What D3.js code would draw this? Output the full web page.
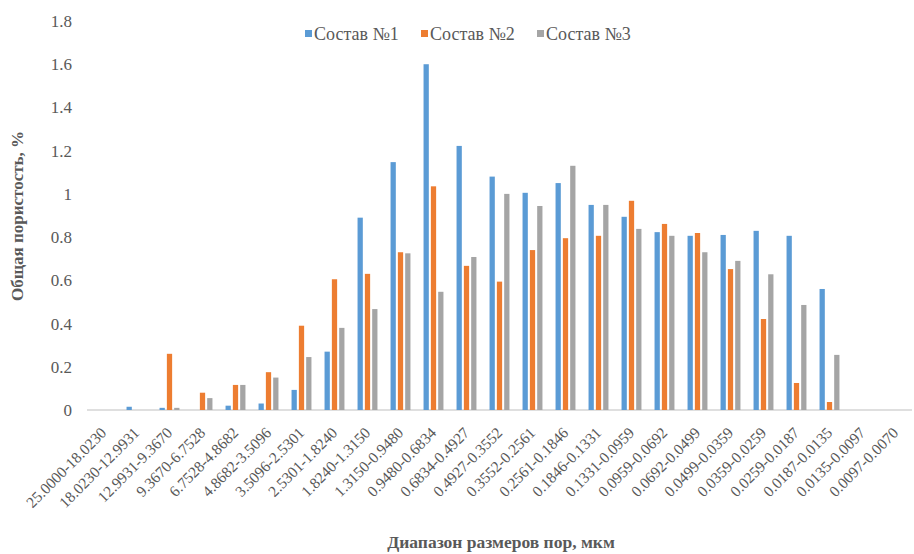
<!DOCTYPE html>
<html><head><meta charset="utf-8">
<script src="https://cdn.jsdelivr.net/npm/d3@7"></script>
<style>body{margin:0;background:#fff}svg{display:block}svg text{font-family:"Liberation Serif","Times New Roman",serif}</style>
</head><body>
<svg id="c" width="914" height="554"></svg>
<script>
const categories = ["25.0000-18.0230","18.0230-12.9931","12.9931-9.3670","9.3670-6.7528","6.7528-4.8682","4.8682-3.5096","3.5096-2.5301","2.5301-1.8240","1.8240-1.3150","1.3150-0.9480","0.9480-0.6834","0.6834-0.4927","0.4927-0.3552","0.3552-0.2561","0.2561-0.1846","0.1846-0.1331","0.1331-0.0959","0.0959-0.0692","0.0692-0.0499","0.0499-0.0359","0.0359-0.0259","0.0259-0.0187","0.0187-0.0135","0.0135-0.0097","0.0097-0.0070"];
const seriesNames = ["Состав №1","Состав №2","Состав №3"];
const s1 = [0,0.015,0.01,0,0.02,0.03,0.093,0.27,0.89,1.147,1.6,1.222,1.08,1.005,1.05,0.949,0.894,0.823,0.806,0.81,0.829,0.806,0.56,0,0];
const s2 = [0,0,0.26,0.08,0.116,0.175,0.39,0.605,0.63,0.73,1.035,0.667,0.594,0.74,0.795,0.806,0.968,0.861,0.819,0.652,0.421,0.125,0.037,0,0];
const s3 = [0,0,0.01,0.055,0.116,0.15,0.245,0.38,0.467,0.725,0.547,0.708,1.0,0.944,1.13,0.949,0.838,0.806,0.73,0.69,0.628,0.486,0.255,0,0];
const yTicks = [0,0.2,0.4,0.6,0.8,1,1.2,1.4,1.6,1.8];
const colors = ["#5B9BD5","#ED7D31","#A5A5A5"];
const series = [s1,s2,s3];

const svg = d3.select("#c");
const font = '"Liberation Serif","Times New Roman",serif';
const x0 = d3.scaleBand().domain(categories).range([87,912]).paddingInner(0).paddingOuter(0);
const x1 = d3.scaleBand().domain(seriesNames).range([x0.bandwidth()/2-12, x0.bandwidth()/2+12]).padding(0.28);
const y = d3.scaleLinear().domain([0,1.8]).range([410,21]);

// axis line
svg.append("line").attr("x1",87).attr("x2",912).attr("y1",y(0)).attr("y2",y(0))
  .attr("stroke","#bfbfbf").attr("stroke-width",1);

// bars
const g = svg.append("g");
categories.forEach((c,i)=>{
  series.forEach((s,k)=>{
    const v = s[i];
    if(v<=0) return;
    g.append("rect")
      .attr("x", x0(c)+x1(seriesNames[k]))
      .attr("y", y(v))
      .attr("width", x1.bandwidth())
      .attr("height", y(0)-y(v))
      .attr("fill", colors[k]);
  });
});

// y axis labels
const yAxis = d3.axisLeft(y).tickValues(yTicks).tickSize(0).tickPadding(0).tickFormat(d=>String(d));
const ya = svg.append("g").attr("transform","translate(72,0)").call(yAxis);
ya.attr("font-family",null).attr("font-size",null);
ya.select(".domain").remove();
ya.selectAll("text").style("font-family",font).style("font-size","17px").attr("fill","#595959");

// x labels
const xAxis = d3.axisBottom(x0).tickSize(0).tickPadding(0);
const xa = svg.append("g").attr("transform","translate(0,"+(y(0)+20)+")").call(xAxis);
xa.attr("font-family",null).attr("font-size",null);
xa.select(".domain").remove();
xa.selectAll("text").style("font-family",font).style("font-size","15.5px").attr("fill","#595959")
  .attr("text-anchor","end").attr("dy","0.35em").attr("dx","0")
  .attr("transform","rotate(-45)").attr("y",0).attr("x",0);

// axis titles
svg.append("text").attr("x",501).attr("y",548).attr("text-anchor","middle")
  .style("font-family",font).style("font-size","17.5px").attr("font-weight","bold").attr("fill","#595959")
  .text("Диапазон размеров пор, мкм");
svg.append("text").attr("transform","translate(23,216) rotate(-90)").attr("text-anchor","middle")
  .style("font-family",font).style("font-size","17px").attr("font-weight","bold").attr("fill","#595959")
  .text("Общая пористость, %");

// legend
const legX = [305,421,537];
seriesNames.forEach((n,k)=>{
  const lg = svg.append("g").attr("transform","translate("+legX[k]+",34)");
  lg.append("rect").attr("x",0).attr("y",-4).attr("width",7).attr("height",7).attr("fill",colors[k]);
  lg.append("text").attr("x",9).attr("y",0).attr("dy","0.35em")
    .style("font-family",font).style("font-size","18px").attr("fill","#595959").text(n);
});
</script>
</body></html>
